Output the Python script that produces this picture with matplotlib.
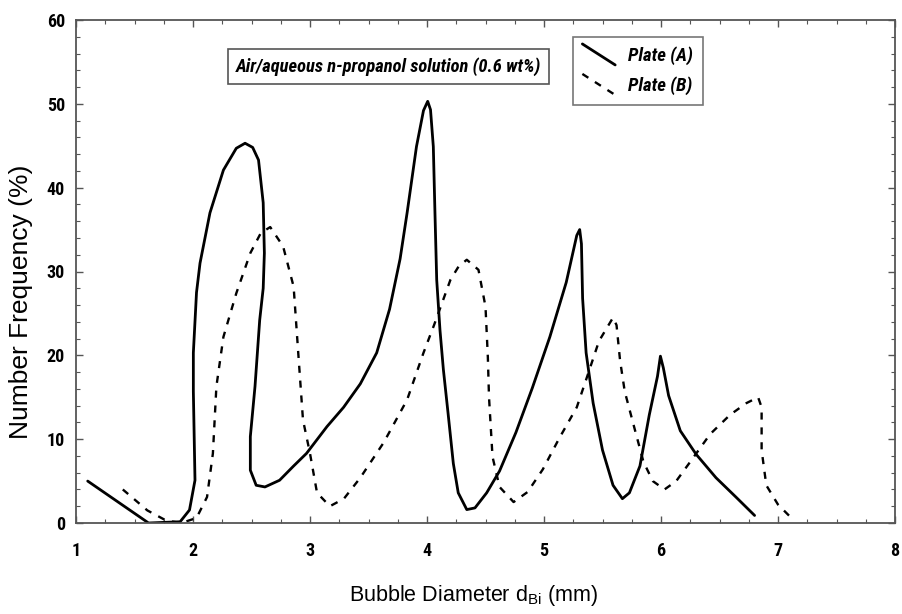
import matplotlib
matplotlib.use("Agg")
import matplotlib.pyplot as plt
from matplotlib.lines import Line2D
from matplotlib.legend_handler import HandlerLine2D
from matplotlib.ticker import MultipleLocator
from matplotlib import font_manager

# ---------------- data ----------------
plate_a_x = [1.10, 1.62, 1.89, 1.97, 2.017, 2.003, 2.003, 2.03, 2.06, 2.145,
             2.26, 2.37, 2.445, 2.51, 2.56, 2.60, 2.61, 2.60, 2.57, 2.53, 2.49, 2.49,
             2.54, 2.615, 2.74, 2.86, 2.97, 3.145, 3.287, 3.43, 3.57, 3.68, 3.77,
             3.83, 3.91, 3.97, 4.006, 4.03, 4.054, 4.068, 4.083, 4.111, 4.14, 4.18,
             4.225, 4.267, 4.34, 4.41, 4.51, 4.62, 4.76, 4.90, 5.05, 5.19, 5.28,
             5.305, 5.32, 5.33, 5.36, 5.42, 5.50, 5.59, 5.67, 5.73, 5.82, 5.90, 5.97,
             5.995, 6.02, 6.065, 6.165, 6.30, 6.47, 6.64, 6.80]
plate_a_y = [5.0, 0.0, 0.15, 1.55, 5.1, 15.7, 20.3, 27.5, 31.0, 37.0,
             42.1, 44.7, 45.3, 44.8, 43.3, 38.2, 32.2, 28.0, 24.2, 16.3, 10.3, 6.3,
             4.5, 4.3, 5.1, 6.8, 8.3, 11.5, 13.8, 16.6, 20.3, 25.5, 31.5,
             37.0, 44.9, 49.2, 50.3, 49.3, 44.9, 37.0, 29.0, 23.0, 18.3, 13.1,
             7.1, 3.6, 1.6, 1.8, 3.6, 6.2, 10.8, 16.1, 22.2, 28.7, 34.3,
             35.0, 33.3, 26.8, 20.3, 14.3, 8.7, 4.5, 2.9, 3.6, 6.8, 12.9, 17.5,
             19.9, 18.5, 15.2, 11.0, 8.2, 5.4, 3.1, 0.9]

plate_b_x = [1.40, 1.61, 1.77, 1.90, 2.03, 2.12, 2.17, 2.20, 2.26, 2.37, 2.49,
             2.58, 2.66, 2.77, 2.86, 2.90, 2.94, 3.00, 3.06, 3.17, 3.29, 3.43, 3.63,
             3.83, 3.97, 4.06, 4.20, 4.27, 4.34, 4.44, 4.50, 4.52, 4.53, 4.56, 4.62,
             4.74, 4.86, 4.99, 5.13, 5.28, 5.36, 5.47, 5.59, 5.62, 5.65, 5.69,
             5.76, 5.85, 5.93, 6.03, 6.13, 6.25, 6.42, 6.59, 6.73, 6.83, 6.86, 6.86,
             6.90, 7.00, 7.10]
plate_b_y = [4.0, 1.5, 0.3, 0.0, 0.6, 3.1, 8.3, 16.3, 22.2, 27.4, 32.2,
             34.6, 35.3, 33.0, 28.2, 20.2, 12.3, 8.3, 3.6, 2.0, 2.9, 5.4, 9.6,
             14.7, 20.3, 23.6, 29.0, 30.6, 31.4, 30.2, 25.8, 19.8, 15.0, 7.9, 4.3,
             2.5, 3.7, 6.4, 10.1, 13.8, 17.1, 21.7, 24.5, 23.6, 19.4, 15.7,
             12.0, 7.3, 5.0, 4.0, 5.0, 7.3, 10.6, 12.9, 14.3, 15.0, 13.8, 8.7,
             4.5, 2.2, 0.8]

series_labels = ["Plate (A)", "Plate (B)"]
x_ticks = [1, 2, 3, 4, 5, 6, 7, 8]
y_ticks = [0, 10, 20, 30, 40, 50, 60]
annotation = "Air/aqueous n-propanol solution (0.6 wt%)"

# ---------------- fonts ----------------
names = {f.name for f in font_manager.fontManager.ttflist}
base = "Liberation Sans"
for cand in ["Liberation Sans Narrow", "Arial Narrow", "Roboto Condensed"]:
    if cand in names:
        base = cand
        break
fam = [base, "Liberation Sans", "DejaVu Sans"]
reg = ["Liberation Sans", "DejaVu Sans"]
plt.rcParams["font.family"] = fam
plt.rcParams["mathtext.fontset"] = "custom"
plt.rcParams["mathtext.rm"] = "Liberation Sans"
plt.rcParams["mathtext.it"] = "Liberation Sans:italic"


class SlantHandler(HandlerLine2D):
    def create_artists(self, legend, orig_handle, xdescent, ydescent, width, height,
                       fontsize, trans):
        line = Line2D([-xdescent, -xdescent + width],
                      [-ydescent + height * 1.3, -ydescent - height * 0.3])
        self.update_prop(line, orig_handle, legend)
        line.set_transform(trans)
        return [line]


W, H = 902, 614
L, R, T, B = 76, 895, 20, 523
fig = plt.figure(figsize=(W / 100, H / 100), dpi=100)
ax = fig.add_axes([L / W, 1 - B / H, (R - L) / W, (B - T) / H])

la, = ax.plot(plate_a_x, plate_a_y, color="black", lw=2.0, solid_capstyle="round",
              solid_joinstyle="round", label=series_labels[0])
lb, = ax.plot(plate_b_x, plate_b_y, color="black", lw=1.7,
              linestyle=(0, (3.0, 3.3)), label=series_labels[1])

ax.set_xlim(1, 8)
ax.set_ylim(0, 60)
ax.set_xticks(x_ticks)
ax.set_yticks(y_ticks)
ax.xaxis.set_minor_locator(MultipleLocator(0.25))
ax.yaxis.set_minor_locator(MultipleLocator(2))
ax.tick_params(which="both", direction="in", top=True, right=True, color="#555555")
ax.tick_params(which="major", length=5, width=1.0, labelsize=13)
ax.tick_params(axis="x", which="major", pad=14)
ax.tick_params(axis="y", which="major", pad=8)
ax.tick_params(which="minor", length=3, width=0.8)
for lab in ax.get_xticklabels() + ax.get_yticklabels():
    lab.set_fontweight("bold")
for sp in ax.spines.values():
    sp.set_color("#555555")
    sp.set_linewidth(1.3)

ax.set_xlabel(r"Bubble Diameter d$_{\rm Bi}$ (mm)", fontsize=15.5, family=reg,
              va="top")
ax.xaxis.set_label_coords((473 - L) / (R - L), (B - 583) / (B - T))
ax.set_ylabel("Number Frequency (%)", fontsize=19, family=reg, va="center")
ax.yaxis.set_label_coords((21 - L) / (R - L), (B - 302) / (B - T))

ax.text((388.5 - L) / (R - L), (B - 66.5) / (B - T), annotation,
        transform=ax.transAxes, ha="center", va="center",
        fontsize=13.3, fontweight="bold", fontstyle="italic",
        bbox=dict(boxstyle="square,pad=0.45", fc="white", ec="#555555", lw=1.2))

leg = ax.legend(handles=[la, lb], loc="upper left",
                bbox_to_anchor=((573 - L) / (R - L), (B - 37) / (B - T)),
                handler_map={Line2D: SlantHandler()}, fancybox=False, frameon=True,
                edgecolor="#555555", handlelength=1.75, handletextpad=0.7,
                borderpad=0.5, labelspacing=0.6, borderaxespad=0.0,
                prop={"family": fam, "weight": "bold", "style": "italic", "size": 13.5})
leg.get_frame().set_linewidth(1.2)

fig.savefig("out.png", dpi=100)
